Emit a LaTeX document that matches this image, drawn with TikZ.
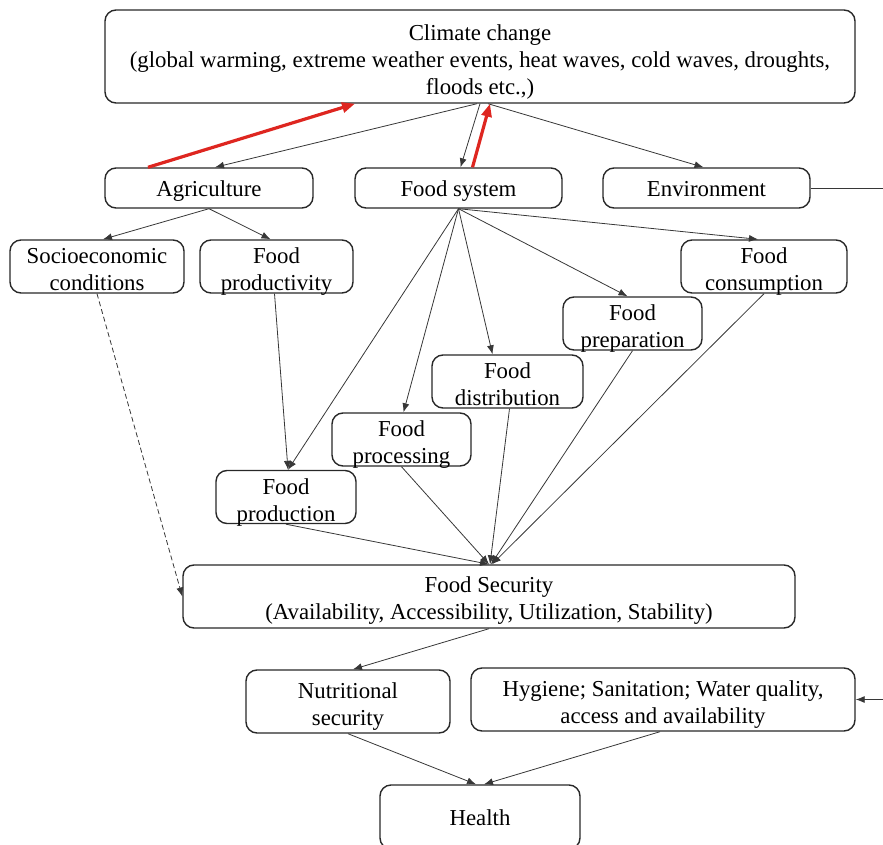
\documentclass[tikz,border=0pt]{standalone}
\usepackage{fontspec}
\setmainfont{Liberation Serif}
\usetikzlibrary{arrows.meta}
\definecolor{edgegray}{RGB}{55,55,55}
\definecolor{boxline}{RGB}{40,40,40}
\definecolor{feedback}{RGB}{222,38,32}
\tikzset{
  box/.style={draw=boxline, line width=1.4pt, rounded corners=11pt, align=center,
    inner sep=0pt, font=\rmfamily\fontsize{22.8}{27}\selectfont, text=black,
    text height=22pt, text depth=5pt},
  twoline/.style={text height=50.5pt, text depth=2.5pt},
  threeline/.style={text height=80.5pt, text depth=5pt},
  link/.style={draw=edgegray, line width=0.8pt, -{Latex[length=9pt,width=7pt]}},
  redlink/.style={draw=feedback, line width=3.2pt, -{Triangle[length=13pt,width=10pt]}},
}
\begin{document}
\begin{tikzpicture}[x=1pt, y=-1pt]
\useasboundingbox (0,0) rectangle (883,845);
\clip (0,0) rectangle (883,845);

% boxes
\node[box, threeline, minimum width=750pt, minimum height=93pt] (clim) at (480,56.5)
  {Climate change\\(global warming, extreme weather events, heat waves, cold waves, droughts,\\floods etc.,)};
\node[box, minimum width=208pt, minimum height=40pt] (agri) at (209,188) {Agriculture};
\node[box, minimum width=207pt, minimum height=40pt] (fs) at (458.5,188) {Food system};
\node[box, minimum width=207pt, minimum height=40pt] (env) at (706.5,188) {Environment};
\node[box, twoline, minimum width=174pt, minimum height=53pt] (socio) at (97,266.5) {Socioeconomic\\conditions};
\node[box, twoline, minimum width=153pt, minimum height=53pt] (fprod) at (276.5,266.5) {Food\\productivity};
\node[box, twoline, minimum width=166pt, minimum height=53pt] (fcons) at (764,266.5) {Food\\consumption};
\node[box, twoline, minimum width=139pt, minimum height=53pt] (fprep) at (632.5,323.5) {Food\\preparation};
\node[box, twoline, minimum width=151pt, minimum height=53pt] (fdist) at (507.5,381.5) {Food\\distribution};
\node[box, twoline, minimum width=139pt, minimum height=53pt] (fproc) at (401.5,439.5) {Food\\processing};
\node[box, twoline, minimum width=140pt, minimum height=53pt] (fprodn) at (286,497) {Food\\production};
\node[box, text height=51pt, text depth=5pt, minimum width=612pt, minimum height=63pt] (sec) at (489,596.5)
  {Food Security\\(Availability, Accessibility, Utilization, Stability)};
\node[box, twoline, minimum width=204pt, minimum height=63pt] (nut) at (348,701.5) {Nutritional\\security};
\node[box, twoline, minimum width=384pt, minimum height=63pt] (hyg) at (663,699.5)
  {Hygiene; Sanitation; Water quality,\\access and availability};
\node[box, minimum width=200pt, minimum height=64pt] (health) at (480,817) {Health};

% climate links
\draw[link] ([xshift=-3pt]clim.south) -- ([xshift=6pt]agri.north);
\draw[link] ([xshift=0pt]clim.south) -- ([xshift=2pt]fs.north);
\draw[link] ([xshift=8pt]clim.south) -- ([xshift=-3pt]env.north);
\draw[redlink] ([xshift=-61pt]agri.north) -- ([xshift=-125pt]clim.south);
\draw[redlink] ([xshift=14pt]fs.north) -- ([xshift=10pt]clim.south);

% environment to hygiene along the right rim
\coordinate (rim) at (884,188);
\draw[link] (env.east) -- (rim) |- (hyg.east);

% agriculture branch
\draw[link] (agri.south) -- ([xshift=6pt]socio.north);
\draw[link] (agri.south) -- ([xshift=-6pt]fprod.north);
\draw[link] ([xshift=-2pt]fprod.south) -- ([xshift=2pt]fprodn.north);
\draw[link, dash pattern=on 5pt off 3pt] (socio.south) -- (sec.west);

% food system fan
\draw[link] (fs.south) -- ([xshift=-6pt]fcons.north);
\draw[link] (fs.south) -- ([xshift=-5pt]fprep.north);
\draw[link] (fs.south) -- ([xshift=-15pt]fdist.north);
\draw[link] (fs.south) -- ([xshift=2pt]fproc.north);
\draw[link] (fs.south) -- ([xshift=2pt]fprodn.north);

% into food security
\draw[link] (fprodn.south) -- ([xshift=0pt]sec.north);
\draw[link] (fproc.south) -- ([xshift=0pt]sec.north);
\draw[link] ([xshift=2pt]fdist.south) -- ([xshift=1pt]sec.north);
\draw[link] (fprep.south) -- ([xshift=2pt]sec.north);
\draw[link] (fcons.south) -- ([xshift=3pt]sec.north);

% toward health
\draw[link] (sec.south) -- ([xshift=5pt]nut.north);
\draw[link] (nut.south) -- ([xshift=-4pt]health.north);
\draw[link] ([xshift=-3pt]hyg.south) -- ([xshift=4pt]health.north);
\end{tikzpicture}
\end{document}
